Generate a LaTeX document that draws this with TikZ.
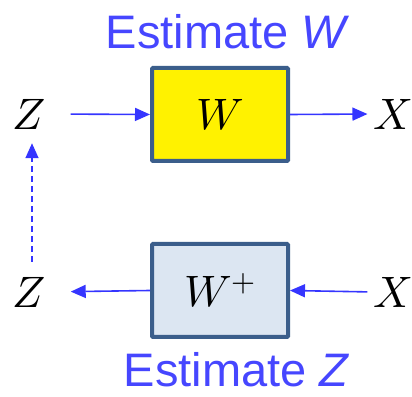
\documentclass[tikz,border=0pt]{standalone}
\usepackage{fontspec}
\setmainfont{Liberation Sans}
\usepackage{unicode-math}
\setmathfont{Latin Modern Math}
\usetikzlibrary{arrows.meta}
\definecolor{arrblue}{HTML}{3535FF}
\definecolor{ttlblue}{HTML}{4646FF}
\definecolor{boxedge}{HTML}{3B5E8B}
\definecolor{boxlight}{HTML}{DCE6F2}
\tikzset{
  blk/.style={draw=boxedge, line width=4pt, rounded corners=1pt, minimum width=136pt, minimum height=93pt, inner sep=0pt},
  sym/.style={inner sep=0pt, font=\fontsize{44}{48}\selectfont},
  ttl/.style={text=ttlblue, inner sep=0pt, font=\fontsize{47}{50}\selectfont},
  arr/.style={draw=arrblue, line width=1.6pt, -{Triangle[length=15pt,width=13pt]}},
  darr/.style={arr, dash pattern=on 6pt off 4pt},
}
\begin{document}
\begin{tikzpicture}[x=1pt,y=1pt]
\useasboundingbox (0,0) rectangle (412,396);
\node[blk, fill=yellow] (w) at (220,281.5) {\fontsize{44}{48}\selectfont$W$};
\node[blk, fill=boxlight] (wp) at (220,105.5) {\fontsize{44}{48}\selectfont$W^{+}$};
\node[sym] (zt) at (29,282) {$Z$};
\node[sym] (xt) at (393,282) {$X$};
\node[sym] (zb) at (29,104) {$Z$};
\node[sym] (xb) at (393,104) {$X$};
\node[ttl] (t1) at (226,364) {Estimate {\itshape W}};
\node[ttl] (t2) at (236,26) {Estimate {\itshape Z}};
\draw[arr, shorten <=25pt] (zt.east) -- (w.west);
\draw[arr, shorten >=6pt] (w.east) -- (xt.west);
\draw[arr, shorten <=6pt] (xb.west) -- (wp.east);
\draw[arr, shorten >=25pt] (wp.west) -- (zb.east);
\draw[darr, shorten <=15pt, shorten >=14pt] ([xshift=3pt]zb.north) -- ([xshift=3pt]zt.south);
\end{tikzpicture}
\end{document}
